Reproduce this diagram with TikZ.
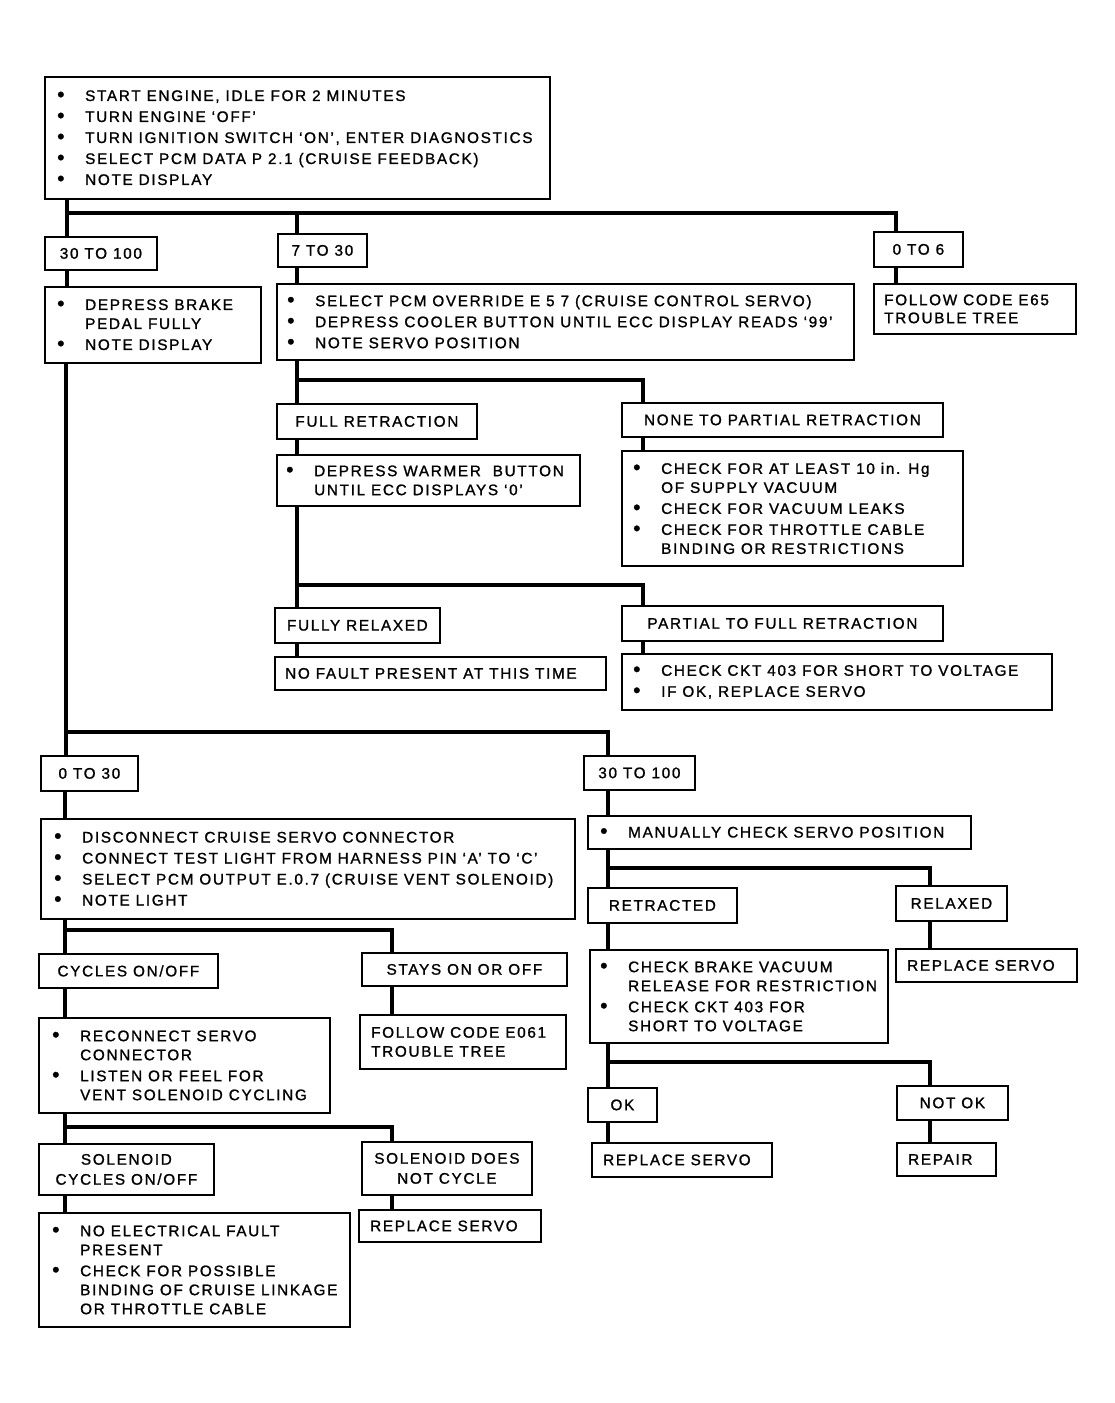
\documentclass[tikz,border=0pt]{standalone}
\usepackage{fontspec}
\setmainfont{Liberation Sans}[LetterSpace=11,FakeBold=1.2]
\tikzset{
  box/.style={draw, line width=1.8pt, anchor=north west, inner sep=0pt},
  txt/.style={inner sep=0pt, align=left, font=\fontsize{15.3}{21}\selectfont},
  conn/.style={line width=4pt, line cap=rect, line join=miter}
}
\newcommand\itm{\makebox[28pt][l]{\raisebox{-0.5pt}{\fontsize{21}{21}\selectfont\textbullet}}}
\newcommand\ind{\hspace*{28pt}}
\newcommand\bx[7]{%
  \pgfmathsetmacro\bW{#4-#2}\pgfmathsetmacro\bH{#5-#3}%
  \node[box, minimum width=\bW pt, minimum height=\bH pt] (#1) at (#2,-#3) {};
  \node[txt, anchor=west] (#1t) at ([xshift=#6pt]#1.west) {#7};}
\newcommand\cbx[6]{%
  \pgfmathsetmacro\bW{#4-#2}\pgfmathsetmacro\bH{#5-#3}%
  \node[box, minimum width=\bW pt, minimum height=\bH pt] (#1) at (#2,-#3) {};
  \node[txt, align=center] (#1t) at (#1.center) {#6};}
\begin{document}
\begin{tikzpicture}[x=1pt,y=1pt]
\useasboundingbox (0,0) rectangle (1115,-1403);
% ---- boxes ----
\bx{top}{44}{76}{549}{198}{13}{\itm START ENGINE, IDLE FOR 2 MINUTES\\\itm TURN ENGINE ‘OFF’\\\itm TURN IGNITION SWITCH ‘ON’, ENTER DIAGNOSTICS\\\itm SELECT PCM DATA P 2.1 (CRUISE FEEDBACK)\\\itm NOTE DISPLAY}
\cbx{ra}{44}{236}{156}{269}{30 TO 100}
\cbx{rb}{277}{233}{366}{266}{7 TO 30}
\cbx{rc}{873}{231}{962}{266}{0 TO 6}
\bx{brake}{44}{286}{260}{362}{13}{\itm DEPRESS BRAKE\\[-2pt]\ind PEDAL FULLY\\\itm NOTE DISPLAY}
\bx{pcm}{276}{283}{853}{359}{11}{\itm SELECT PCM OVERRIDE E 5 7 (CRUISE CONTROL SERVO)\\\itm DEPRESS COOLER BUTTON UNTIL ECC DISPLAY READS ‘99’\\\itm NOTE SERVO POSITION}
\bx{e65}{873}{283}{1075}{333}{11}{FOLLOW CODE E65\\[-3pt]TROUBLE TREE}
\cbx{full}{276}{403}{476}{438}{FULL RETRACTION}
\cbx{none}{621}{402}{942}{436}{NONE TO PARTIAL RETRACTION}
\bx{warm}{276}{454}{579}{505}{10}{\itm DEPRESS WARMER\ \ BUTTON\\[-2pt]\ind UNTIL ECC DISPLAYS ‘0’}
\bx{vac}{621}{450}{962}{565}{12}{\itm CHECK FOR AT LEAST 10 in. Hg\\[-2pt]\ind OF SUPPLY VACUUM\\\itm CHECK FOR VACUUM LEAKS\\\itm CHECK FOR THROTTLE CABLE\\[-2pt]\ind BINDING OR RESTRICTIONS}
\cbx{frel}{274}{607}{439}{642}{FULLY RELAXED}
\cbx{p2f}{621}{605}{942}{640}{PARTIAL TO FULL RETRACTION}
\bx{nof}{274}{656}{605}{689}{11}{NO FAULT PRESENT AT THIS TIME}
\bx{ckt}{621}{653}{1051}{709}{12}{\itm CHECK CKT 403 FOR SHORT TO VOLTAGE\\\itm IF OK, REPLACE SERVO}
\cbx{rd}{40}{755}{137}{790}{0 TO 30}
\cbx{re}{583}{755}{694}{789}{30 TO 100}
\bx{disc}{40}{818}{574}{918}{14}{\itm DISCONNECT CRUISE SERVO CONNECTOR\\\itm CONNECT TEST LIGHT FROM HARNESS PIN ‘A’ TO ‘C’\\\itm SELECT PCM OUTPUT E.0.7 (CRUISE VENT SOLENOID)\\\itm NOTE LIGHT}
\bx{man}{587}{815}{970}{848}{13}{\itm MANUALLY CHECK SERVO POSITION}
\cbx{cyc}{38}{953}{217}{987}{CYCLES ON/OFF}
\cbx{stay}{361}{952}{566}{985}{STAYS ON OR OFF}
\bx{recon}{38}{1017}{329}{1112}{14}{\itm RECONNECT SERVO\\[-2pt]\ind CONNECTOR\\\itm LISTEN OR FEEL FOR\\[-2pt]\ind VENT SOLENOID CYCLING}
\bx{e061}{359}{1014}{565}{1068}{12}{FOLLOW CODE E061\\[-2pt]TROUBLE TREE}
\cbx{scyc}{38}{1143}{213}{1194}{SOLENOID\\[-1pt]CYCLES ON/OFF}
\cbx{sdnc}{361}{1141}{531}{1194}{SOLENOID DOES\\[-1pt]NOT CYCLE}
\bx{noel}{38}{1212}{349}{1326}{14}{\itm NO ELECTRICAL FAULT\\[-2pt]\ind PRESENT\\\itm CHECK FOR POSSIBLE\\[-2pt]\ind BINDING OF CRUISE LINKAGE\\[-2pt]\ind OR THROTTLE CABLE}
\bx{rs1}{358}{1209}{540}{1241}{12}{REPLACE SERVO}
\cbx{retr}{587}{887}{736}{922}{RETRACTED}
\cbx{rel}{895}{885}{1006}{920}{RELAXED}
\bx{cbv}{589}{949}{887}{1042}{11}{\itm CHECK BRAKE VACUUM\\[-2pt]\ind RELEASE FOR RESTRICTION\\\itm CHECK CKT 403 FOR\\[-2pt]\ind SHORT TO VOLTAGE}
\bx{rs2}{895}{948}{1076}{981}{12}{REPLACE SERVO}
\cbx{ok}{587}{1087}{656}{1121}{OK}
\cbx{nok}{896}{1085}{1007}{1119}{NOT OK}
\bx{rs3}{591}{1142}{771}{1176}{12}{REPLACE SERVO}
\bx{rep}{896}{1142}{995}{1175}{12}{REPAIR}
% ---- junction coordinates ----
\coordinate (j1) at (67,-213);
\coordinate (j1m) at (297,-213);
\coordinate (j1r) at (896,-213);
\coordinate (j2) at (297,-380);
\coordinate (j2r) at (643,-380);
\coordinate (j3) at (297,-585);
\coordinate (j3r) at (643,-585);
\coordinate (j4) at (66,-732);
\coordinate (j4r) at (608,-732);
\coordinate (j5) at (65,-930);
\coordinate (j5r) at (392,-930);
\coordinate (j6) at (65,-1127);
\coordinate (j6r) at (392,-1127);
\coordinate (j7) at (608,-868);
\coordinate (j7r) at (930,-868);
\coordinate (j8) at (608,-1062);
\coordinate (j8r) at (930,-1062);
% ---- connectors ----
\draw[conn] (top.south -| j1) -- (j1) -- (j1r) -- (rc.north -| j1r);
\draw[conn] (j1) -- (ra.north -| j1);
\draw[conn] (j1m) -- (rb.north -| j1m);
\draw[conn] (ra.south -| j1) -- (brake.north -| j1);
\draw[conn] (rb.south -| j1m) -- (pcm.north -| j1m);
\draw[conn] (rc.south -| j1r) -- (e65.north -| j1r);
\draw[conn] (pcm.south -| j2) -- (j2) -- (j2r) -- (none.north -| j2r);
\draw[conn] (j2) -- (full.north -| j2);
\draw[conn] (full.south -| j2) -- (warm.north -| j2);
\draw[conn] (none.south -| j2r) -- (vac.north -| j2r);
\draw[conn] (warm.south -| j3) -- (j3) -- (j3r) -- (p2f.north -| j3r);
\draw[conn] (j3) -- (frel.north -| j3);
\draw[conn] (frel.south -| j3) -- (nof.north -| j3);
\draw[conn] (p2f.south -| j3r) -- (ckt.north -| j3r);
\draw[conn] (brake.south -| j4) -- (j4) -- (j4r) -- (re.north -| j4r);
\draw[conn] (j4) -- (rd.north -| j4);
\draw[conn] (rd.south -| j5) -- (disc.north -| j5);
\draw[conn] (re.south -| j4r) -- (man.north -| j4r);
\draw[conn] (disc.south -| j5) -- (j5) -- (j5r) -- (stay.north -| j5r);
\draw[conn] (j5) -- (cyc.north -| j5);
\draw[conn] (cyc.south -| j5) -- (recon.north -| j5);
\draw[conn] (stay.south -| j5r) -- (e061.north -| j5r);
\draw[conn] (recon.south -| j6) -- (j6) -- (j6r) -- (sdnc.north -| j6r);
\draw[conn] (j6) -- (scyc.north -| j6);
\draw[conn] (scyc.south -| j6) -- (noel.north -| j6);
\draw[conn] (sdnc.south -| j6r) -- (rs1.north -| j6r);
\draw[conn] (man.south -| j7) -- (j7) -- (j7r) -- (rel.north -| j7r);
\draw[conn] (j7) -- (retr.north -| j7);
\draw[conn] (retr.south -| j7) -- (cbv.north -| j7);
\draw[conn] (rel.south -| j7r) -- (rs2.north -| j7r);
\draw[conn] (cbv.south -| j8) -- (j8) -- (j8r) -- (nok.north -| j8r);
\draw[conn] (j8) -- (ok.north -| j8);
\draw[conn] (ok.south -| j8) -- (rs3.north -| j8);
\draw[conn] (nok.south -| j8r) -- (rep.north -| j8r);
\end{tikzpicture}
\end{document}
